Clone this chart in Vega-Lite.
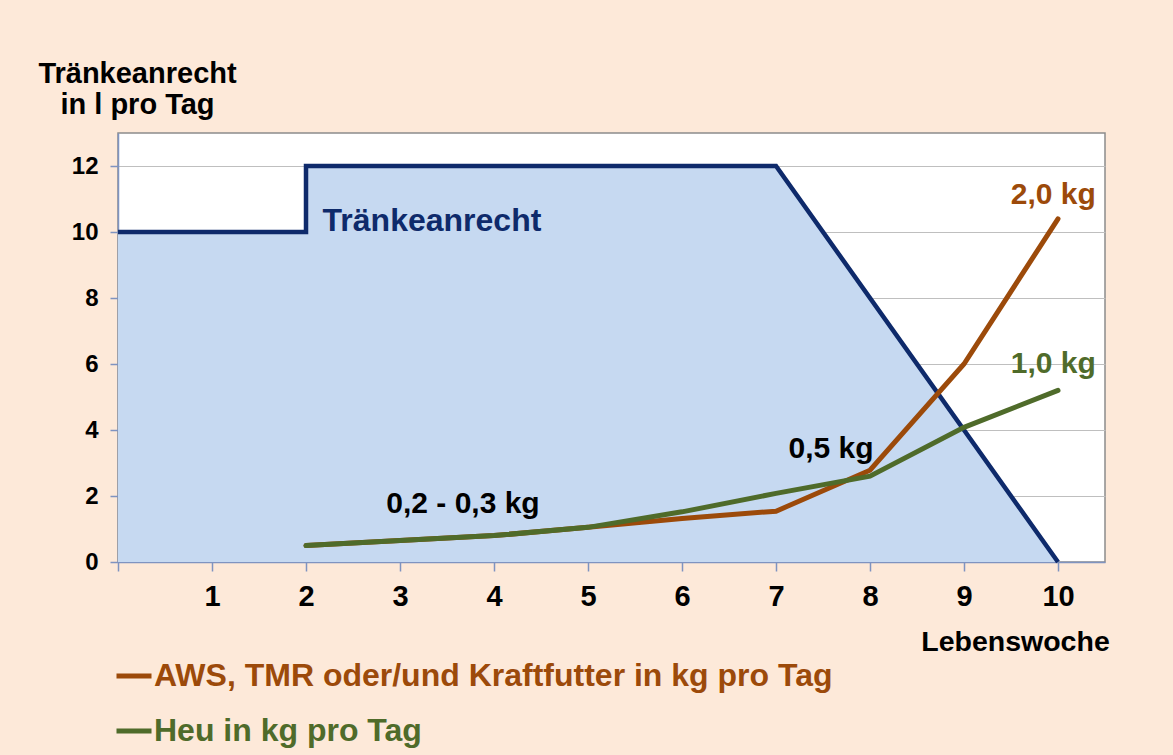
{
  "$schema": "https://vega.github.io/schema/vega-lite/v6.json",
  "width": 987,
  "height": 429,
  "autosize": {"type": "none"},
  "padding": {"left": 118, "top": 133, "right": 68, "bottom": 193},
  "background": "#FDE9D9",
  "config": {
    "view": {"fill": "white", "stroke": "#8C8C8C", "strokeWidth": 1.5},
    "font": "Liberation Sans"
  },
  "datasets": {
    "traenke": [
      {"woche": 0, "liter": 10, "i": 0},
      {"woche": 2, "liter": 10, "i": 1},
      {"woche": 2, "liter": 12, "i": 2},
      {"woche": 7, "liter": 12, "i": 3},
      {"woche": 10, "liter": 0, "i": 4}
    ],
    "futter": [
      {"woche": 2, "kg": 0.5, "serie": "AWS, TMR oder/und Kraftfutter in kg pro Tag"},
      {"woche": 3, "kg": 0.65, "serie": "AWS, TMR oder/und Kraftfutter in kg pro Tag"},
      {"woche": 4, "kg": 0.8, "serie": "AWS, TMR oder/und Kraftfutter in kg pro Tag"},
      {"woche": 5, "kg": 1.05, "serie": "AWS, TMR oder/und Kraftfutter in kg pro Tag"},
      {"woche": 6, "kg": 1.32, "serie": "AWS, TMR oder/und Kraftfutter in kg pro Tag"},
      {"woche": 7, "kg": 1.54, "serie": "AWS, TMR oder/und Kraftfutter in kg pro Tag"},
      {"woche": 8, "kg": 2.78, "serie": "AWS, TMR oder/und Kraftfutter in kg pro Tag"},
      {"woche": 9, "kg": 6.0, "serie": "AWS, TMR oder/und Kraftfutter in kg pro Tag"},
      {"woche": 10, "kg": 10.4, "serie": "AWS, TMR oder/und Kraftfutter in kg pro Tag"},
      {"woche": 2, "kg": 0.5, "serie": "Heu in kg pro Tag"},
      {"woche": 3, "kg": 0.65, "serie": "Heu in kg pro Tag"},
      {"woche": 4, "kg": 0.8, "serie": "Heu in kg pro Tag"},
      {"woche": 5, "kg": 1.05, "serie": "Heu in kg pro Tag"},
      {"woche": 6, "kg": 1.52, "serie": "Heu in kg pro Tag"},
      {"woche": 7, "kg": 2.08, "serie": "Heu in kg pro Tag"},
      {"woche": 8, "kg": 2.6, "serie": "Heu in kg pro Tag"},
      {"woche": 9, "kg": 4.08, "serie": "Heu in kg pro Tag"},
      {"woche": 10, "kg": 5.2, "serie": "Heu in kg pro Tag"}
    ],
    "notizen": [
      {"woche": 9.95, "wert": 10.85, "text": "2,0 kg", "gruppe": "AWS"},
      {"woche": 9.95, "wert": 5.74, "text": "1,0 kg", "gruppe": "Heu"},
      {"woche": 7.585, "wert": 3.14, "text": "0,5 kg", "gruppe": "Hinweis"},
      {"woche": 3.67, "wert": 1.48, "text": "0,2 - 0,3 kg", "gruppe": "Hinweis"}
    ],
    "serienname": [
      {"woche": 3.34, "wert": 10.03, "text": "Tränkeanrecht"}
    ]
  },
  "layer": [
    {
      "data": {"name": "traenke"},
      "mark": {"type": "area", "color": "#C6D9F1", "opacity": 1},
      "encoding": {
        "x": {
          "field": "woche", "type": "quantitative",
          "scale": {"domain": [0, 10.5], "nice": false, "zero": false},
          "axis": {
            "values": [0, 1, 2, 3, 4, 5, 6, 7, 8, 9, 10],
            "format": "d",
            "labelExpr": "datum.value == 0 ? '' : datum.label",
            "grid": false,
            "domainColor": "#7F93C0", "domainWidth": 1.5,
            "tickColor": "#7F93C0", "tickWidth": 1.5, "tickSize": 9,
            "labelFontSize": 29, "labelFontWeight": "bold", "labelColor": "black", "labelPadding": 11,
            "title": "Lebenswoche", "titleX": 897, "titleY": 88,
            "titleAlign": "center", "titleBaseline": "alphabetic",
            "titleFontSize": 28.5, "titleFontWeight": "bold", "titleColor": "black"
          }
        },
        "y": {
          "field": "liter", "type": "quantitative", "stack": null,
          "scale": {"domain": [0, 13], "nice": false},
          "axis": {
            "values": [0, 2, 4, 6, 8, 10, 12],
            "grid": true, "gridColor": "#BFBFBF", "gridWidth": 1.2,
            "domainColor": "#7F93C0", "domainWidth": 1.5,
            "tickColor": "#7F93C0", "tickWidth": 1.5, "tickSize": 8,
            "labelFontSize": 24, "labelFontWeight": "bold", "labelColor": "black", "labelPadding": 12,
            "title": ["Tränkeanrecht", "in l pro Tag"],
            "titleAngle": 0, "titleX": 19, "titleY": -51,
            "titleAlign": "center", "titleBaseline": "alphabetic",
            "titleFontSize": 29, "titleFontWeight": "bold", "titleColor": "black", "titleLineHeight": 31
          }
        }
      }
    },
    {
      "data": {"name": "traenke"},
      "mark": {"type": "line", "color": "#0E2A6B", "strokeWidth": 4.5, "strokeJoin": "miter"},
      "encoding": {
        "x": {"field": "woche", "type": "quantitative"},
        "y": {"field": "liter", "type": "quantitative"},
        "order": {"field": "i", "type": "quantitative"}
      }
    },
    {
      "data": {"name": "futter"},
      "transform": [{"filter": "datum.serie == 'AWS, TMR oder/und Kraftfutter in kg pro Tag'"}],
      "mark": {"type": "line", "strokeWidth": 5, "strokeCap": "round"},
      "encoding": {
        "x": {"field": "woche", "type": "quantitative"},
        "y": {"field": "kg", "type": "quantitative"},
        "stroke": {
          "field": "serie", "type": "nominal",
          "scale": {"domain": ["AWS, TMR oder/und Kraftfutter in kg pro Tag"], "range": ["#9C4A0A"]},
          "legend": {
            "orient": "none", "legendX": -4, "legendY": 523, "title": null,
            "symbolType": "stroke", "symbolSize": 1225, "symbolStrokeWidth": 5,
            "labelFontSize": 32, "labelFontWeight": "bold", "labelColor": "#9C4A0A",
            "labelLimit": 1000, "labelOffset": 0, "padding": 0
          }
        }
      }
    },
    {
      "data": {"name": "futter"},
      "transform": [{"filter": "datum.serie == 'Heu in kg pro Tag'"}],
      "mark": {"type": "line", "strokeWidth": 5, "strokeCap": "round"},
      "encoding": {
        "x": {"field": "woche", "type": "quantitative"},
        "y": {"field": "kg", "type": "quantitative"},
        "stroke": {
          "field": "serie", "type": "nominal",
          "scale": {"domain": ["Heu in kg pro Tag"], "range": ["#4F6B2A"]},
          "legend": {
            "orient": "none", "legendX": -4, "legendY": 578, "title": null,
            "symbolType": "stroke", "symbolSize": 1225, "symbolStrokeWidth": 5,
            "labelFontSize": 32, "labelFontWeight": "bold", "labelColor": "#4F6B2A",
            "labelLimit": 1000, "labelOffset": 0, "padding": 0
          }
        }
      }
    },
    {
      "data": {"name": "notizen"},
      "mark": {"type": "text", "fontSize": 30, "fontWeight": "bold", "align": "center", "baseline": "alphabetic"},
      "encoding": {
        "x": {"field": "woche", "type": "quantitative"},
        "y": {"field": "wert", "type": "quantitative"},
        "text": {"field": "text", "type": "nominal"},
        "color": {
          "field": "gruppe", "type": "nominal",
          "scale": {"domain": ["AWS", "Heu", "Hinweis"], "range": ["#9C4A0A", "#4F6B2A", "#000000"]},
          "legend": null
        }
      }
    },
    {
      "data": {"name": "serienname"},
      "mark": {"type": "text", "fontSize": 32, "fontWeight": "bold", "align": "center", "baseline": "alphabetic", "color": "#0E2A6B"},
      "encoding": {
        "x": {"field": "woche", "type": "quantitative"},
        "y": {"field": "wert", "type": "quantitative"},
        "text": {"field": "text", "type": "nominal"}
      }
    }
  ],
  "resolve": {"scale": {"stroke": "independent"}, "legend": {"stroke": "independent"}}
}
